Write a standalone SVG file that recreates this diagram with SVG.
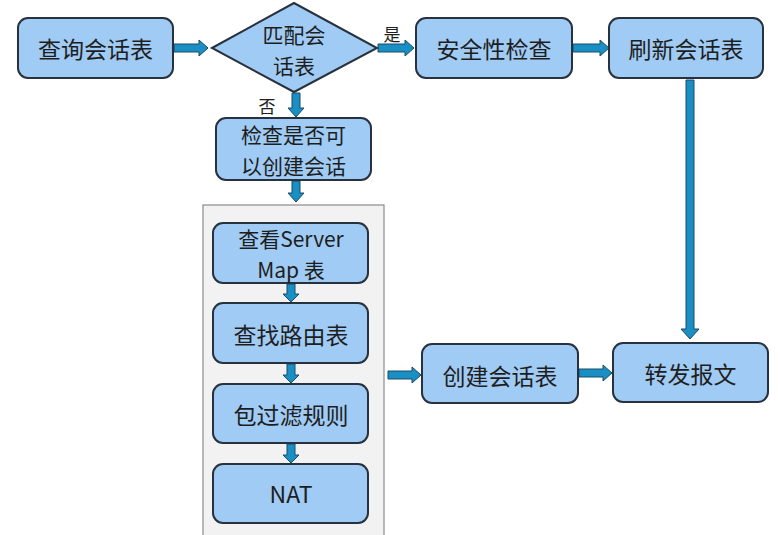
<svg xmlns="http://www.w3.org/2000/svg" width="780" height="535" viewBox="0 0 780 535">
<style>
.box{fill:#a0cbf4;stroke:#28323e;stroke-width:2}
.arr{fill:#1a8fc4;stroke:#1d4a66;stroke-width:1}
.t{font-family:"Noto Sans CJK SC","Noto Sans CJK TC",sans-serif;font-size:23px;fill:#1e1e1e;text-anchor:middle;dominant-baseline:central}
.t2{font-size:21px}
.lbl{font-family:"Noto Sans CJK SC",sans-serif;font-size:17px;fill:#1e1e1e;text-anchor:middle;dominant-baseline:central}
</style>
<rect width="780" height="535" fill="#ffffff"/>
<g id="container">
<rect x="203" y="205" width="181" height="340" fill="#f2f2f2" stroke="#8c8c8c" stroke-width="1.2"/>
</g>
<g id="connectors">
<polygon class="arr" points="174,44 199,44 199,40 208,48 199,56 199,52 174,52"/>
<polygon class="arr" points="378,44 405,44 405,40 414,48 405,56 405,52 378,52"/>
<polygon class="arr" points="573,44 600,44 600,40 609,48 600,56 600,52 573,52"/>
<polygon class="arr" points="292,93 300,93 300,108 304,108 296,117 288,108 292,108"/>
<polygon class="arr" points="292,181 300,181 300,193 304,193 296,202 288,193 292,193"/>
<polygon class="arr" points="686,80 694,80 694,329 699,329 690,339 681,329 686,329"/>
<polygon class="arr" points="287,284 295,284 295,294 299,294 291,302 283,294 287,294"/>
<polygon class="arr" points="287,364 295,364 295,375 299,375 291,383 283,375 287,375"/>
<polygon class="arr" points="287,444 295,444 295,455 299,455 291,463 283,455 287,455"/>
<polygon class="arr" points="388,371 412,371 412,367 421,375 412,383 412,379 388,379"/>
<polygon class="arr" points="579,369 603,369 603,365 612,373 603,381 603,377 579,377"/>
<text class="lbl" x="392" y="33">是</text>
<text class="lbl" x="267" y="105">否</text>
</g>
<g id="n1"><rect class="box" x="18" y="18" width="155" height="60" rx="10"/><text class="t" x="95.5" y="48">查询会话表</text></g>
<g id="n2"><polygon class="box" points="212,48 294,3 377,48 294,92"/><text class="t t2" x="294" y="34">匹配会<tspan x="294" dy="31">话表</tspan></text></g>
<g id="n3"><rect class="box" x="416" y="18" width="156" height="60" rx="10"/><text class="t" x="494" y="48">安全性检查</text></g>
<g id="n4"><rect class="box" x="609" y="18" width="154" height="60" rx="10"/><text class="t" x="686" y="48">刷新会话表</text></g>
<g id="n5"><rect class="box" x="216" y="118" width="155" height="62" rx="10"/><text class="t t2" x="293.5" y="134">检查是否可<tspan x="293.5" dy="31">以创建会话</tspan></text></g>
<g id="n6"><rect class="box" x="213" y="223" width="155" height="60" rx="10"/><text class="t t2" x="291" y="238">查看Server<tspan x="291" dy="31">Map 表</tspan></text></g>
<g id="n7"><rect class="box" x="213" y="303" width="155" height="60" rx="10"/><text class="t" x="291" y="334">查找路由表</text></g>
<g id="n8"><rect class="box" x="213" y="384" width="155" height="59" rx="10"/><text class="t" x="291" y="414">包过滤规则</text></g>
<g id="n9"><rect class="box" x="213" y="464" width="155" height="59" rx="10"/><text class="t" x="291" y="493">NAT</text></g>
<g id="n10"><rect class="box" x="422" y="344" width="156" height="59" rx="10"/><text class="t" x="500" y="375">创建会话表</text></g>
<g id="n11"><rect class="box" x="613" y="343" width="155" height="59" rx="10"/><text class="t" x="690.5" y="373">转发报文</text></g>
</svg>
